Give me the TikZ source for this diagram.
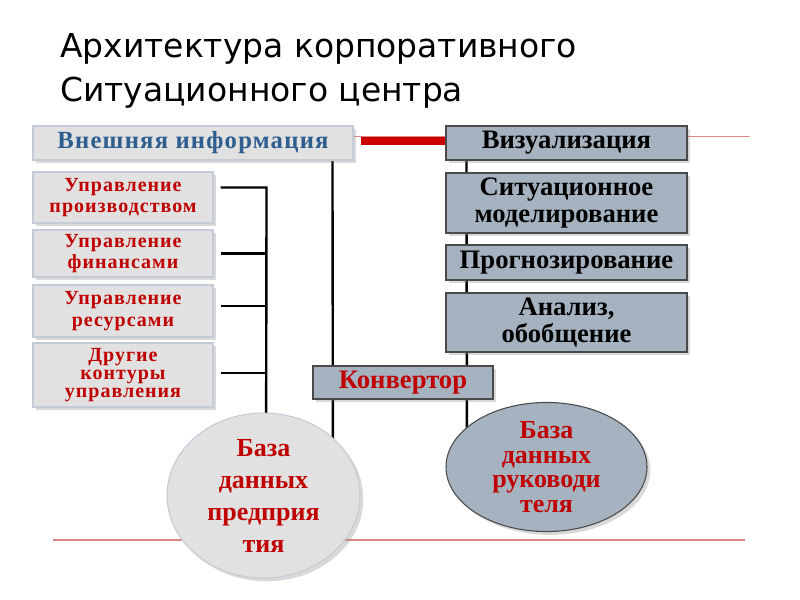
\documentclass[tikz,border=0pt]{standalone}
\usepackage{fontspec}
\setmainfont{Liberation Serif}
\newfontfamily\titlefont{DejaVu Sans}
\newfontfamily\spacedserif[LetterSpace=5]{Liberation Serif}
\usetikzlibrary{shapes.geometric,shadows,backgrounds,calc}
\definecolor{boxred}{HTML}{C00000}
\definecolor{boxblue}{HTML}{2E5E8F}
\definecolor{lfill}{HTML}{E1E1E1}
\definecolor{lborder}{HTML}{C3CCD6}
\definecolor{rfill}{HTML}{A5B3C1}
\definecolor{rborder}{HTML}{4A4A4A}
\definecolor{thinred}{HTML}{E08888}
\definecolor{thickred}{HTML}{CC0000}
\begin{document}
\begin{tikzpicture}[x=0.75pt,y=-0.75pt,
  shad/.style={drop shadow={shadow xshift=2.5pt,shadow yshift=-2.5pt,opacity=0.3,fill=gray}},
  lbox/.style={shad,draw=lborder,fill=lfill,line width=0.8pt,text=boxred,align=center,
    minimum width=135pt,inner sep=0pt,font=\spacedserif\bfseries\fontsize{15}{16}\selectfont},
  rbox/.style={shad,draw=rborder,fill=rfill,line width=0.8pt,text=black,align=center,
    minimum width=180.75pt,inner sep=0pt,font=\bfseries\fontsize{20}{20}\selectfont},
  conn/.style={draw=black,line width=1.8pt},
  title/.style={anchor=base west,inner sep=0pt,font=\titlefont\fontsize{24.7}{29}\selectfont}]
\useasboundingbox (0,0) rectangle (800,600);

% title
\node[title] (t1) at (60,57) {Архитектура корпоративного};
\node[title] (t2) at (60,101) {Ситуационного центра};

% top boxes
\node[lbox,minimum width=240pt,minimum height=25.5pt,text=boxblue,font=\spacedserif\bfseries\fontsize{18.5}{19}\selectfont] (vnesh) at (193,143) {Внешняя информация};
\node[rbox,minimum height=25.5pt] (viz) at (566.5,143) {Визуализация};
\node[rbox,minimum height=45pt] (sit) at (566.5,203) {Ситуационное\\моделирование};
\node[rbox,minimum height=26.25pt] (prog) at (566.5,262.5) {Прогнозирование};
\node[rbox,minimum height=44.25pt] (anal) at (566.5,322.5) {Анализ,\\обобщение};
\node[rbox,minimum width=135pt,minimum height=24.75pt,text=boxred] (konv) at (403,382.5) {Конвертор};

% left boxes
\node[lbox,minimum height=38.25pt] (prod) at (123,197.5) {Управление\\производством};
\node[lbox,minimum height=35.25pt] (fin) at (123,253.5) {Управление\\финансами};
\node[lbox,minimum height=39pt] (res) at (123,311) {Управление\\ресурсами};
\node[lbox,minimum height=48pt,font=\spacedserif\bfseries\fontsize{15}{13.5}\selectfont] (oth) at (123,375) {Другие\\контуры\\управления};

% databases
\node[ellipse,shad,draw=lborder,fill=lfill,line width=0.8pt,minimum width=144.75pt,minimum height=123.75pt,inner sep=0pt,
  text=boxred,align=center,font=\bfseries\fontsize{19.5}{24}\selectfont] (dbe) at (263.5,495.5) {База\\данных\\предприя\\тия};
\node[ellipse,shad,draw=rborder,fill=rfill,line width=0.8pt,minimum width=150.75pt,minimum height=67.5pt,inner sep=0pt,
  text=boxred,align=center,font=\bfseries\fontsize{19.5}{18.5}\selectfont] (dbr) at (546.5,467) {База\\данных\\руководи\\теля};

\begin{pgfonlayer}{background}
  % thin red rules
  \draw[thinred,line width=0.8pt] (vnesh.center |- 0,136.5) -- (750,136.5);
  \draw[thinred,line width=0.8pt] (53,540) -- (745,540);
  % connectors
  \draw[conn] ($(vnesh.south west)+(300,0)$) -- ($(dbe.center)+(69.5,0)$);
  \draw[conn] ($(viz.south west)+(21,0)$) -- ($(dbr.center)+(-79.5,0)$);
  \draw[conn] ($(prod.east)+(7,-10)$) -- ++(46,0) -- ($(dbe.center)+(2.5,0)$);
\end{pgfonlayer}
\draw[conn] ($(fin.east)+(7,0)$) -- ($(fin.east)+(53,0)$);
\draw[conn] ($(res.east)+(7,-5)$) -- ($(res.east)+(53,-5)$);
\draw[conn] ($(oth.east)+(7,-2)$) -- ($(oth.east)+(53,-2)$);
\draw[thickred,line width=6pt] ($(vnesh.east)+(7,-2)$) -- ($(viz.west)+(0,-2)$);
\end{tikzpicture}
\end{document}
